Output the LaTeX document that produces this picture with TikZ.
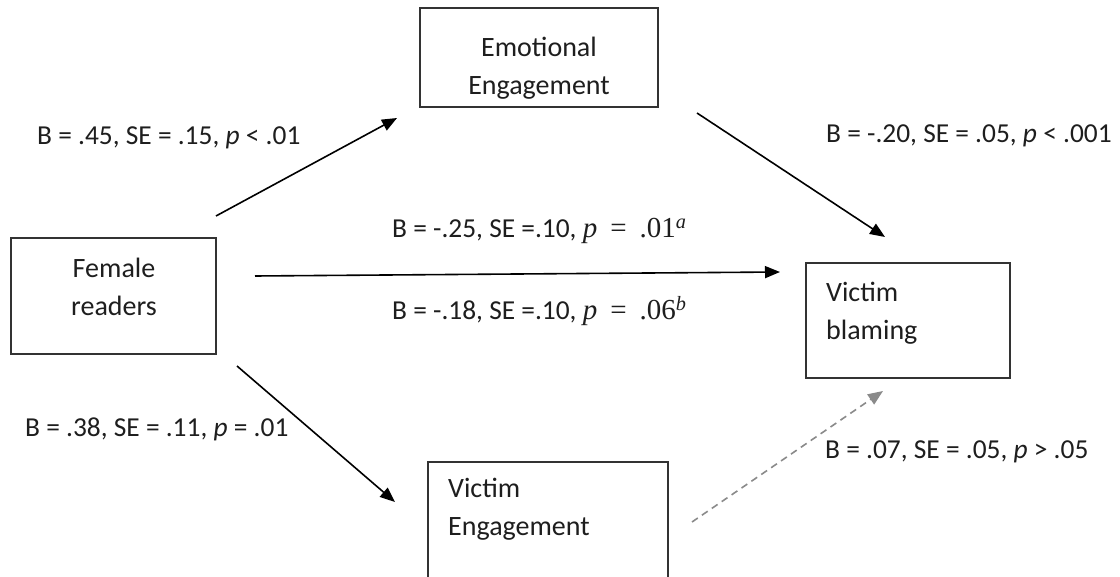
\documentclass[tikz,border=0pt]{standalone}
\usepackage{fontspec}
\setmainfont{Carlito}
\newfontfamily\eqfont{Liberation Serif}
\usetikzlibrary{arrows.meta}
\definecolor{ink}{HTML}{1E1E1E}
\definecolor{frame}{HTML}{333333}
\definecolor{dash}{HTML}{8A8A8A}
\newcommand{\eqpart}[2]{{\eqfont\fontsize{29}{30}\selectfont\textit{p}\hspace{0.45em}=\hspace{0.45em}.#1\textsuperscript{\textit{#2}}}}
\begin{document}
\begin{tikzpicture}[x=1pt,y=-1pt,
  box/.style={draw=frame, line width=1.3pt, inner sep=0pt, fill=none},
  boxtext/.style={text=ink, inner sep=0pt, font=\fontsize{28}{38.5}\selectfont},
  lbl/.style={text=ink, inner sep=0pt, anchor=base west, font=\fontsize{27.4}{30}\selectfont},
  arr/.style={draw=black, line width=1.6pt, -{Triangle[length=15pt,width=12pt]}},
  darr/.style={draw=dash, line width=1.6pt, dash pattern=on 7pt off 5pt, -{Triangle[length=15pt,width=12pt]}}
]
\clip (0,0) rectangle (1120,577);
\fill[white] (0,0) rectangle (1120,577);

% boxes
\node[box, minimum width=205pt, minimum height=116pt] (fem) at (113.5,296) {};
\node[box, minimum width=238pt, minimum height=99pt] (emo) at (539,57.5) {};
\node[box, minimum width=204pt, minimum height=115pt] (vb) at (908,320.5) {};
\node[box, minimum width=240pt, minimum height=140pt] (ve) at (548,532) {};

% box texts
\node[boxtext, align=center] (femt) at (114,287) {Female\\readers};
\node[boxtext, align=center] (emot) at (539,68) {Emotional\\Engagement};
\node[boxtext, align=left, anchor=west] (vbt) at (826,313) {Victim\\blaming};
\node[boxtext, align=left, anchor=west] (vet) at (448,509) {Victim\\Engagement};

% connector end points
\coordinate (a1) at (216,216);
\coordinate (a2) at (397,118);
\coordinate (b1) at (697,113);
\coordinate (b2) at (885,237);
\coordinate (c1) at (255,276);
\coordinate (c2) at (780,272);
\coordinate (d1) at (237,366);
\coordinate (d2) at (395,502);
\coordinate (e1) at (692,522);
\coordinate (e2) at (883,391);

\draw[arr] (a1) -- (a2);
\draw[arr] (b1) -- (b2);
\draw[arr] (c1) -- (c2);
\draw[arr] (d1) -- (d2);
\draw[darr] (e1) -- (e2);

% labels
\node[lbl] (l1) at (37,145) {B = .45, SE = .15, \textit{p} < .01};
\node[lbl] (l2) at (826,143) {B = -.20, SE = .05, \textit{p} < .001};
\node[lbl] (l3) at (392,238) {B = -.25, SE =.10, \eqpart{01}{a}};
\node[lbl] (l4) at (392,320) {B = -.18, SE =.10, \eqpart{06}{b}};
\node[lbl] (l5) at (25,437) {B = .38, SE = .11, \textit{p} = .01};
\node[lbl] (l6) at (825,458) {B = .07, SE = .05, \textit{p} > .05};
\end{tikzpicture}
\end{document}
